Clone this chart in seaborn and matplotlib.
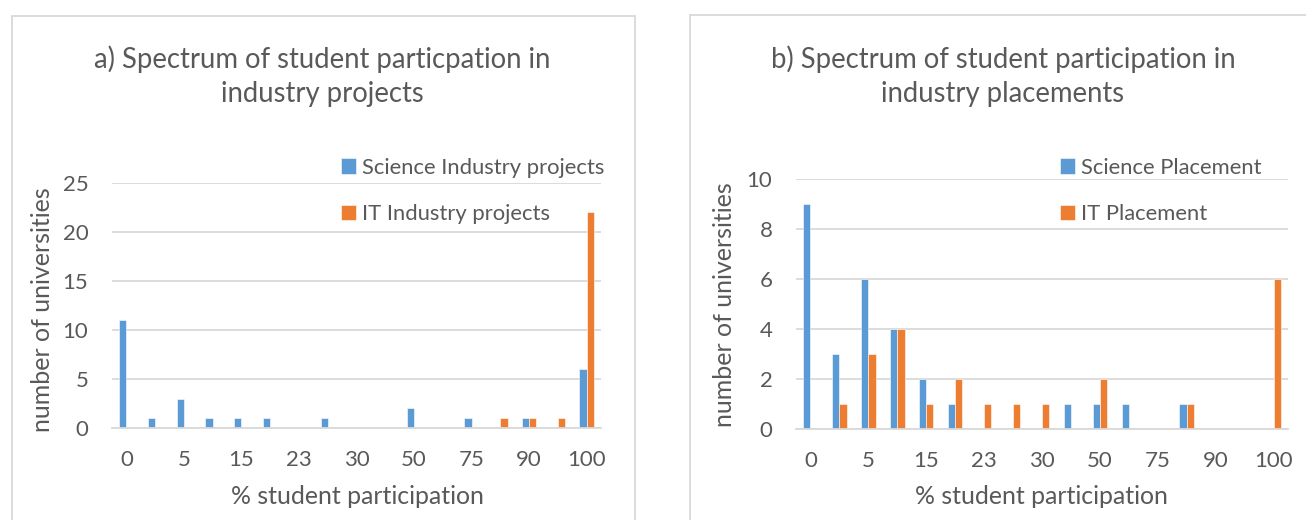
import seaborn as sns
import matplotlib.pyplot as plt
import pandas as pd
from matplotlib.patches import Rectangle

# categories on the x axis (only every second one is labelled)
categories = ['0', '2', '5', '10', '15', '20', '23', '25', '30', '40',
              '50', '60', '75', '80', '90', '95', '100']
tick_labels = categories[::2]

# a) industry projects
science_projects = [11, 1, 3, 1, 1, 1, 0, 1, 0, 0, 2, 0, 1, 0, 1, 0, 6]
it_projects = [0, 0, 0, 0, 0, 0, 0, 0, 0, 0, 0, 0, 0, 1, 1, 1, 22]

# b) industry placements
science_placement = [9, 3, 6, 4, 2, 1, 0, 0, 0, 1, 1, 1, 0, 1, 0, 0, 0]
it_placement = [0, 1, 3, 4, 1, 2, 1, 1, 1, 0, 2, 0, 0, 1, 0, 0, 6]

BLUE = '#5B9BD5'
ORANGE = '#ED7D31'
GRID = '#D9D9D9'
TEXT = '#595959'

sns.set_style('white')
plt.rcParams['font.family'] = ['Lato', 'DejaVu Sans']
plt.rcParams['text.color'] = TEXT


def long_frame(sci, it, sci_name, it_name):
    rows = []
    for cat, a, b in zip(categories, sci, it):
        rows.append({'cat': cat, 'n': a, 'series': sci_name})
        rows.append({'cat': cat, 'n': b, 'series': it_name})
    return pd.DataFrame(rows)


def draw_panel(ax, df, names, ymax, ystep, legend_x):
    sns.barplot(data=df, x='cat', y='n', hue='series', order=categories,
                hue_order=names, palette=[BLUE, ORANGE], saturation=1, width=0.5,
                edgecolor='white', linewidth=0.4, ax=ax)
    ax.set_xlim(-0.5, len(categories) - 0.5)
    ax.set_ylim(0, ymax)
    ax.set_yticks(range(0, ymax + 1, ystep))
    ax.set_xticks(range(0, len(categories), 2))
    ax.set_xticklabels(tick_labels)
    ax.set_xlabel('')
    ax.set_ylabel('')
    ax.yaxis.grid(True, color=GRID, lw=1.3)
    ax.set_axisbelow(True)
    for s in ['top', 'right', 'left']:
        ax.spines[s].set_visible(False)
    ax.spines['bottom'].set_color(GRID)
    ax.spines['bottom'].set_linewidth(1.3)
    ax.tick_params(axis='both', length=0, labelsize=16, colors=TEXT)
    ax.tick_params(axis='x', pad=16)
    ax.tick_params(axis='y', pad=17)
    handles, labels = ax.get_legend_handles_labels()
    ax.legend(handles, labels, loc='upper left', bbox_to_anchor=(legend_x, 0.735),
              bbox_transform=fig.transFigure, frameon=False, fontsize=15.8,
              handlelength=0.7, handleheight=0.7, handletextpad=0.25,
              labelspacing=1.2, labelcolor=TEXT)


fig = plt.figure(figsize=(13.06, 5.2), dpi=100)

# panel borders
fig.patches.append(Rectangle((12 / 1306, -0.05), (635 - 12) / 1306, 1 - 16 / 520 + 0.05,
                             transform=fig.transFigure, fill=False, ec=GRID, lw=1.3))
fig.patches.append(Rectangle((690 / 1306, -0.05), 0.5, 1 - 15 / 520 + 0.05,
                             transform=fig.transFigure, fill=False, ec=GRID, lw=1.3))

ax1 = fig.add_axes([112 / 1306, 1 - 428 / 520, (601 - 112) / 1306, (428 - 183) / 520])
ax2 = fig.add_axes([796 / 1306, 1 - 429 / 520, (1288 - 796) / 1306, (429 - 179) / 520])

df1 = long_frame(science_projects, it_projects, 'Science Industry projects', 'IT Industry projects')
df2 = long_frame(science_placement, it_placement, 'Science Placement', 'IT Placement')

draw_panel(ax1, df1, ['Science Industry projects', 'IT Industry projects'], 25, 5, 321 / 1306)
draw_panel(ax2, df2, ['Science Placement', 'IT Placement'], 10, 2, 1040 / 1306)

# titles and axis labels
fig.text(322 / 1306, 1 - 76 / 520, 'a) Spectrum of student particpation in\nindustry projects',
         ha='center', va='center', fontsize=19.8, linespacing=1.38, color=TEXT)
fig.text(1003 / 1306, 1 - 76 / 520, 'b) Spectrum of student participation in\nindustry placements',
         ha='center', va='center', fontsize=19.8, linespacing=1.38, color=TEXT)

fig.text(357 / 1306, 1 - 496 / 520, '% student participation', ha='center', va='center',
         fontsize=17.9, color=TEXT)
fig.text(1041 / 1306, 1 - 496 / 520, '% student participation', ha='center', va='center',
         fontsize=17.9, color=TEXT)
fig.text(43 / 1306, 1 - 310 / 520, 'number of universities', ha='center', va='center',
         rotation=90, fontsize=18, color=TEXT)
fig.text(724 / 1306, 1 - 305 / 520, 'number of universities', ha='center', va='center',
         rotation=90, fontsize=18, color=TEXT)

fig.savefig('out.png', dpi=100)
